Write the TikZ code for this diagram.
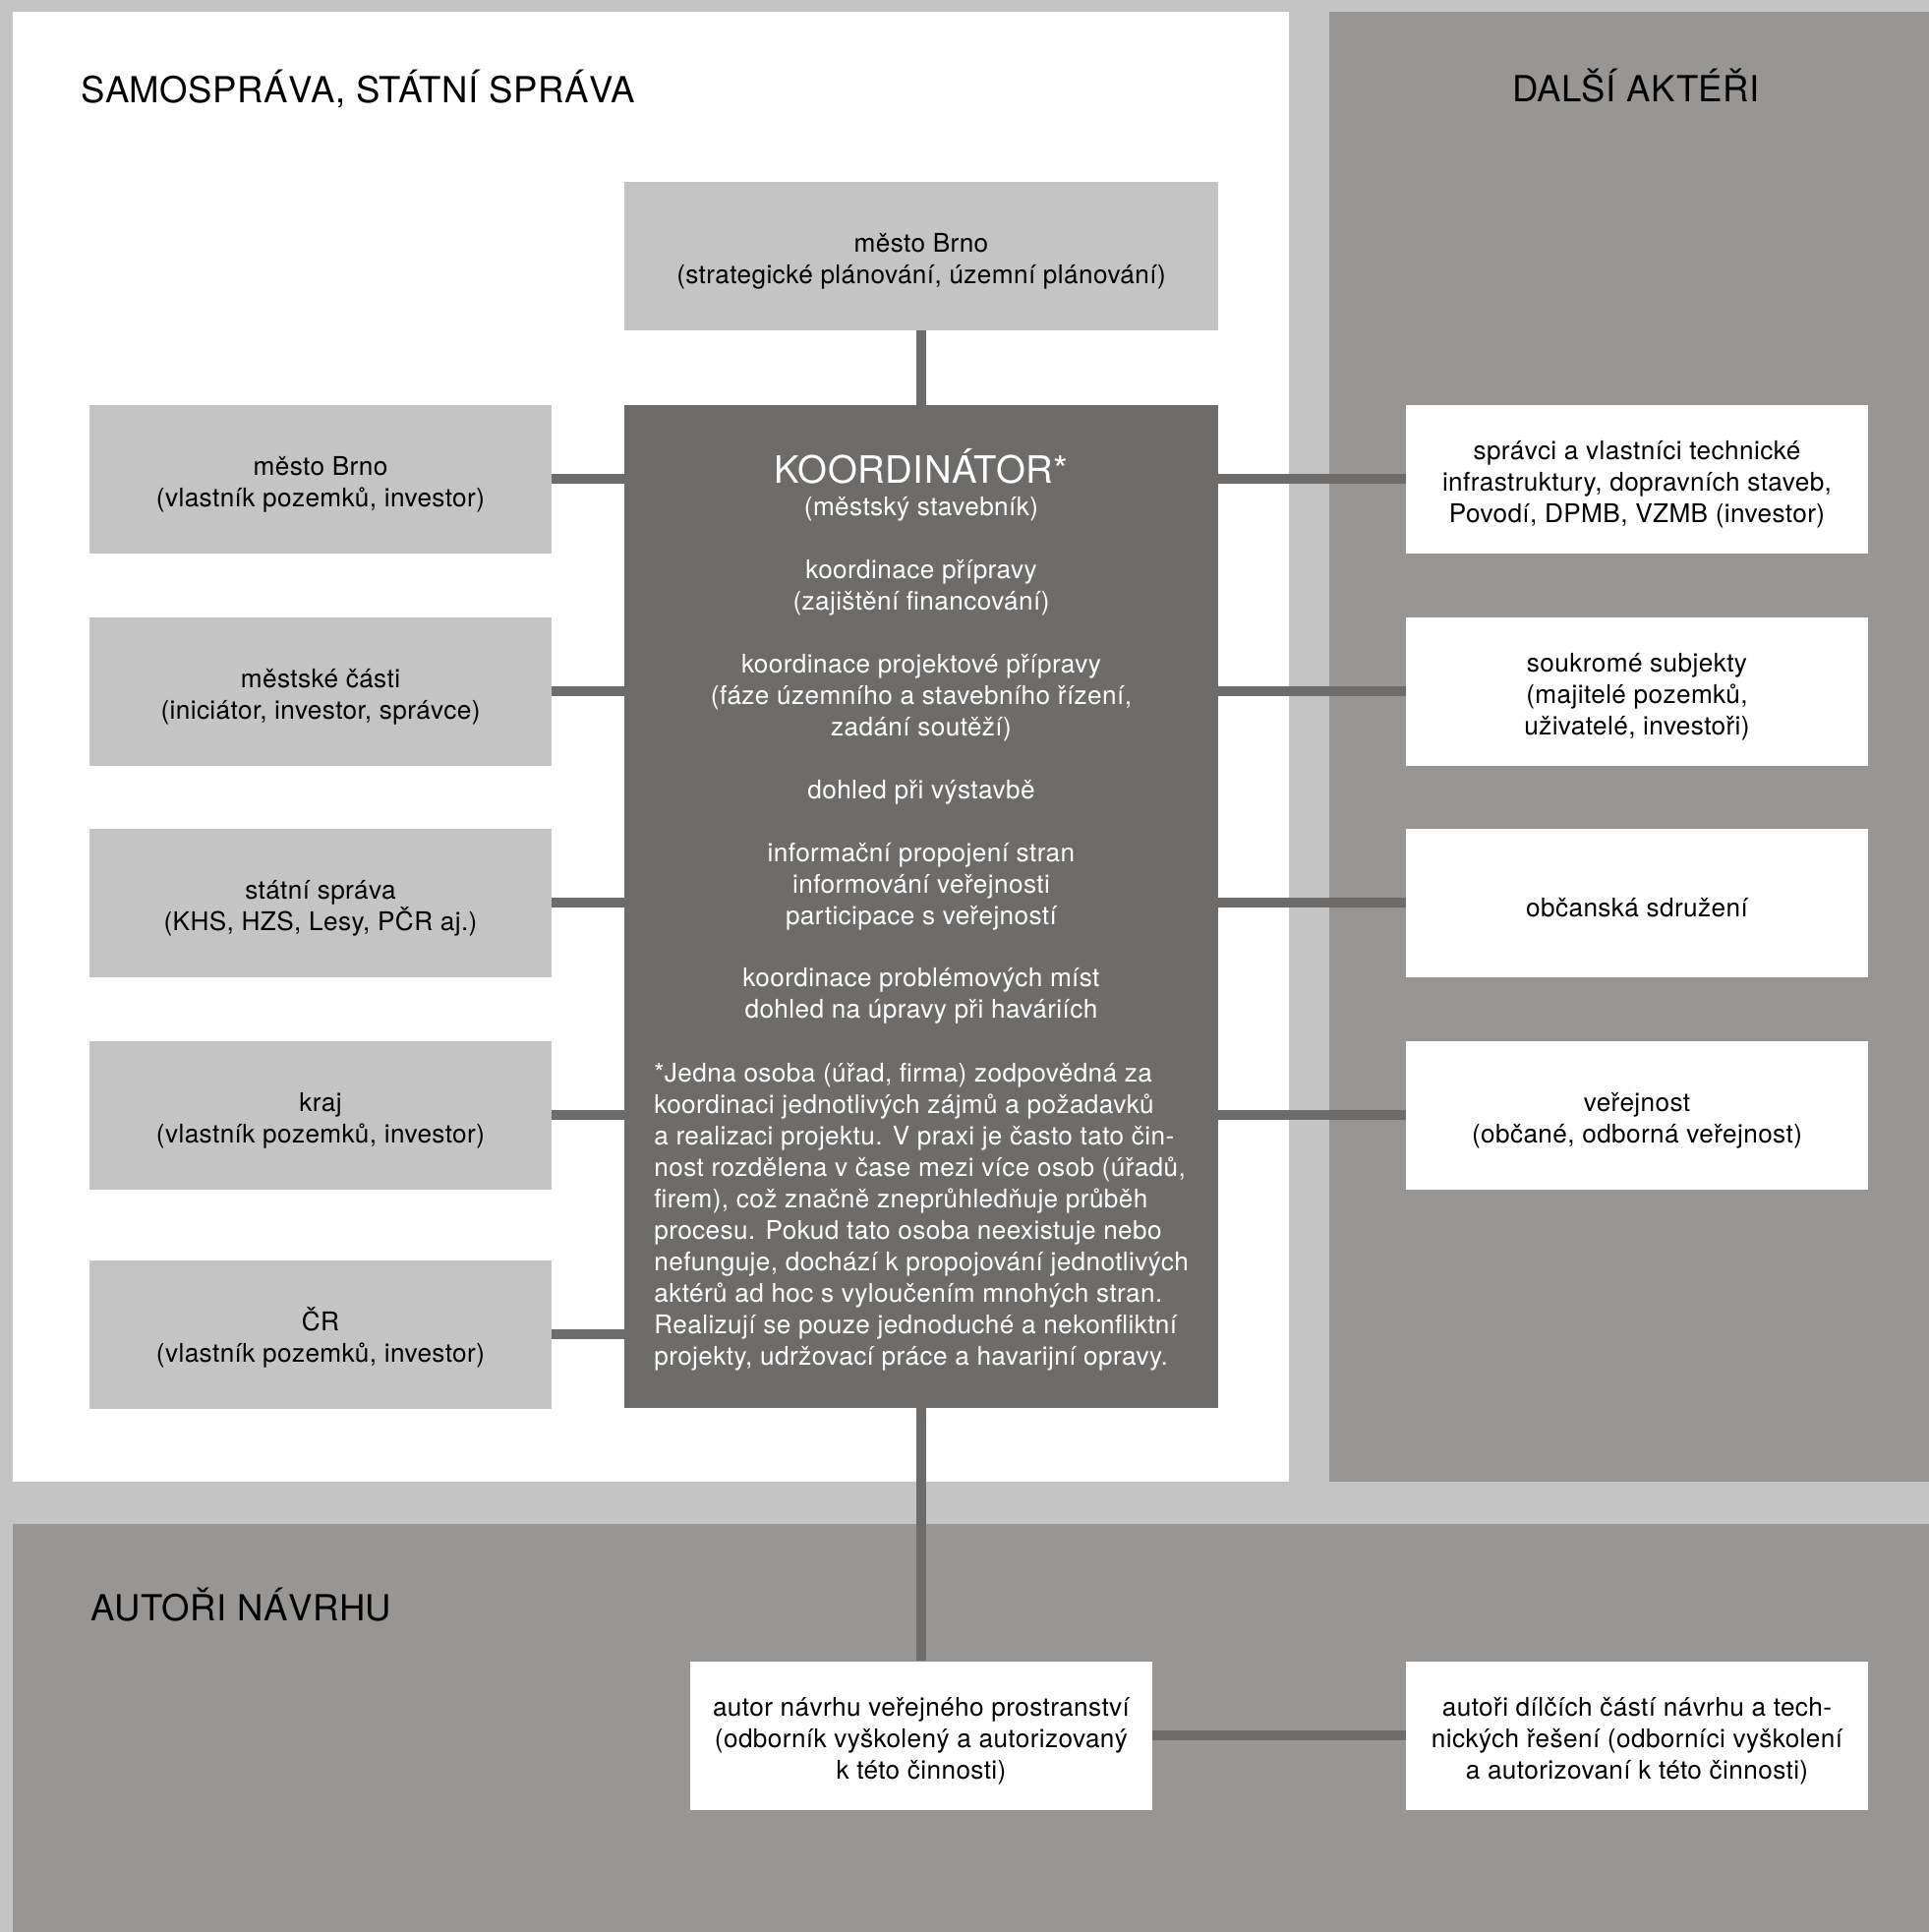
\documentclass[tikz,border=0pt]{standalone}
\usepackage{fontspec}
\setmainfont[LetterSpace=1.5]{TeX Gyre Heros}
\definecolor{pozadi}{HTML}{C4C4C4}
\definecolor{panel}{HTML}{979695}
\definecolor{tmava}{HTML}{6D6C6A}
\newcommand{\vyska}{\rule{0pt}{17pt}}
\begin{document}
\begin{tikzpicture}[
    every node/.style={font=\fontsize{14.9}{18.2}\selectfont, inner sep=0pt},
    nadpis/.style={font=\fontsize{20.8}{24}\selectfont},
    instituce/.style={fill=pozadi, minimum width=9.39cm, minimum height=3.02cm, align=center},
    akter/.style={fill=white, minimum width=9.39cm, minimum height=3.02cm, align=center},
    koordinator/.style={fill=tmava, minimum width=12.08cm, minimum height=20.4cm},
    spoj/.style={draw=tmava, line width=0.21cm}
]
\useasboundingbox (0,0) rectangle (39.24,-39.3);
% Panely
\fill[pozadi] (0,0) rectangle (39.24,-39.3);
\fill[white] (0.26,-0.24) rectangle (26.22,-30.14);
\fill[panel] (27.04,-0.24) rectangle (39.24,-30.14);
\fill[panel] (0.26,-31) rectangle (39.24,-39.3);
% Nadpisy
\node[nadpis, anchor=base west] (samosprava) at (1.65,-2.09) {SAMOSPRÁVA, STÁTNÍ SPRÁVA};
\node[nadpis, anchor=base] (dalsi) at (33.28,-2.06) {DALŠÍ AKTÉŘI};
\node[nadpis, anchor=base west] (autorinadpis) at (1.85,-32.96) {AUTOŘI NÁVRHU};
% Koordinátor
\node[instituce, minimum width=12.08cm] (brnoplan) at (18.74,-5.2) {\vyska město Brno\\(strategické plánování, územní plánování)};
\node[koordinator] (koord) at (18.74,-18.44) {};
\node[nadpis, font=\fontsize{21.8}{24}\selectfont, text=white, anchor=base] (koordnadpis) at (18.74,-9.83) {KOORDINÁTOR*};
\node[text=white, align=center, anchor=north] (koordnapln) at (18.74,-10.03) {\strut(městský stavebník)\\[18.2pt]
koordinace přípravy\\(zajištění financování)\\[18.2pt]
koordinace projektové přípravy\\(fáze územního a stavebního řízení,\\zadání soutěží)\\[18.2pt]
dohled při výstavbě\\[18.2pt]
informační propojení stran\\informování veřejnosti\\participace s veřejností\\[18.2pt]
koordinace problémových míst\\dohled na úpravy při haváriích};
\node[text=white, align=left, anchor=north west] (poznamka) at (13.3,-21.56) {\strut*Jedna osoba (úřad, firma) zodpovědná za\\
koordinaci jednotlivých zájmů a požadavků\\
a realizaci projektu. V praxi je často tato čin-\\
nost rozdělena v čase mezi více osob (úřadů,\\
firem), což značně zneprůhledňuje průběh\\
procesu. Pokud tato osoba neexistuje nebo\\
nefunguje, dochází k propojování jednotlivých\\
aktérů ad hoc s vyloučením mnohých stran.\\
Realizují se pouze jednoduché a nekonfliktní\\
projekty, udržovací práce a havarijní opravy.};
% Samospráva, státní správa
\node[instituce] (brno) at (6.52,-9.74) {\vyska město Brno\\(vlastník pozemků, investor)};
\node[instituce] (casti) at (6.52,-14.06) {\vyska městské části\\(iniciátor, investor, správce)};
\node[instituce] (statni) at (6.52,-18.36) {\vyska státní správa\\(KHS, HZS, Lesy, PČR aj.)};
\node[instituce] (kraj) at (6.52,-22.68) {\vyska kraj\\(vlastník pozemků, investor)};
\node[instituce] (cr) at (6.52,-27.14) {\vyska ČR\\(vlastník pozemků, investor)};
% Další aktéři
\node[akter] (spravci) at (33.3,-9.74) {\vyska správci a vlastníci technické\\infrastruktury, dopravních staveb,\\Povodí, DPMB, VZMB (investor)};
\node[akter] (soukrome) at (33.3,-14.06) {\vyska soukromé subjekty\\(majitelé pozemků,\\uživatelé, investoři)};
\node[akter] (sdruzeni) at (33.3,-18.36) {\vyska občanská sdružení};
\node[akter] (verejnost) at (33.3,-22.68) {\vyska veřejnost\\(občané, odborná veřejnost)};
% Autoři návrhu
\node[akter] (autor) at (18.74,-35.3) {\vyska autor návrhu veřejného prostranství\\(odborník vyškolený a autorizovaný\\k této činnosti)};
\node[akter] (autoridilci) at (33.3,-35.3) {\vyska autoři dílčích částí návrhu a tech-\\nických řešení (odborníci vyškolení\\a autorizovaní k této činnosti)};
% Spoje
\draw[spoj] (brnoplan) to (koord);
\draw[spoj] (brno.east) to (brno.east -| koord.west);
\draw[spoj] (casti.east) to (casti.east -| koord.west);
\draw[spoj] (statni.east) to (statni.east -| koord.west);
\draw[spoj] (kraj.east) to (kraj.east -| koord.west);
\draw[spoj] (cr.east) to (cr.east -| koord.west);
\draw[spoj] (spravci.west -| koord.east) to (spravci.west);
\draw[spoj] (soukrome.west -| koord.east) to (soukrome.west);
\draw[spoj] (sdruzeni.west -| koord.east) to (sdruzeni.west);
\draw[spoj] (verejnost.west -| koord.east) to (verejnost.west);
\draw[spoj] (koord) to (autor);
\draw[spoj] (autor) to (autoridilci);
\end{tikzpicture}
\end{document}
